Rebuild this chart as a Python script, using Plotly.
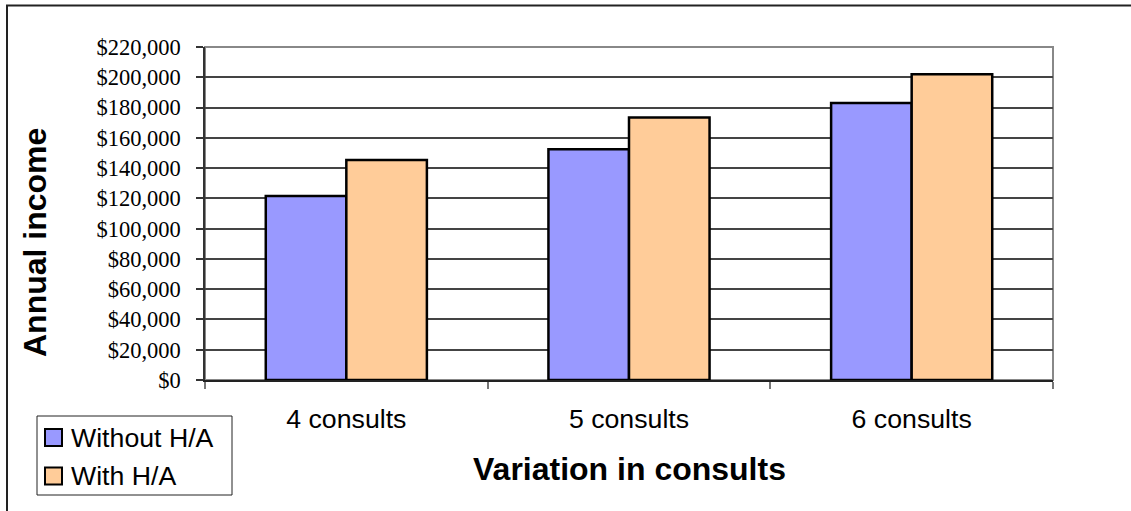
import plotly.graph_objects as go

categories = ["4 consults", "5 consults", "6 consults"]
without_ha = [121500, 152500, 183000]
with_ha = [145300, 173500, 202000]
series_names = ["Without H/A", "With H/A"]
series_colors = ["#9999FF", "#FFCC99"]
y_ticks = list(range(0, 220001, 20000))

W, H = 1131, 511
L, R, T, B = 205, 78, 47, 131
pw, ph = W - L - R, H - T - B

def px_x(p):
    return (p - L) / pw

def px_y(p):
    return (H - B - p) / ph

fig = go.Figure()
for name, vals, col in zip(series_names, [without_ha, with_ha], series_colors):
    fig.add_trace(go.Bar(
        x=categories, y=vals, name=name,
        marker=dict(color=col, line=dict(color="black", width=2.5)),
        showlegend=False,
    ))

shapes = [
    # chart border
    dict(type="rect", xref="paper", yref="paper",
         x0=px_x(7), x1=px_x(1145), y0=px_y(5.5), y1=px_y(530),
         line=dict(color="#222", width=2), layer="below"),
    # plot area border
    dict(type="rect", xref="paper", yref="paper",
         x0=0, x1=1, y0=0, y1=1,
         line=dict(color="#888", width=2), layer="below"),
    # legend box
    dict(type="rect", xref="paper", yref="paper",
         x0=px_x(37), x1=px_x(232), y0=px_y(416), y1=px_y(495),
         line=dict(color="#222", width=1), fillcolor="white"),
]
annotations = []
legend_rows = [437.5, 476]
for name, col, yc in zip(series_names, series_colors, legend_rows):
    shapes.append(dict(type="rect", xref="paper", yref="paper",
                       x0=px_x(45), x1=px_x(62), y0=px_y(yc - 8.5), y1=px_y(yc + 8.5),
                       line=dict(color="black", width=2), fillcolor=col))
    annotations.append(dict(text=name, xref="paper", yref="paper",
                            x=px_x(69), y=px_y(yc), xanchor="left", yanchor="middle",
                            showarrow=False,
                            font=dict(family="Liberation Sans, Arial", size=26.7, color="black")))

annotations.append(dict(text="<b>Variation in consults</b>", xref="paper", yref="paper",
                        x=px_x(629), y=px_y(469), xanchor="center", yanchor="middle",
                        showarrow=False,
                        font=dict(family="Liberation Sans, Arial", size=32, color="black")))
annotations.append(dict(text="<b>Annual income</b>", xref="paper", yref="paper",
                        x=px_x(35), y=px_y(243), xanchor="center", yanchor="middle",
                        textangle=-90, showarrow=False,
                        font=dict(family="Liberation Sans, Arial", size=32, color="black")))

fig.update_layout(
    width=W, height=H,
    margin=dict(l=L, r=R, t=T, b=B),
    paper_bgcolor="white", plot_bgcolor="white",
    barmode="group", bargap=0.43, bargroupgap=0,
    shapes=shapes, annotations=annotations,
    showlegend=False,
)
fig.update_xaxes(
    showline=True, linecolor="#222", linewidth=1.5,
    ticks="outside", tickson="boundaries", ticklen=7, tickcolor="#777", tickwidth=2,
    tickfont=dict(family="Liberation Sans, Arial", size=26.7, color="black"),
    ticklabelstandoff=14,
    showgrid=False,
)
fig.update_yaxes(
    range=[0, 220000], tickvals=y_ticks, tickformat="$,.0f",
    showline=True, linecolor="#333", linewidth=1.5,
    ticks="outside", ticklen=7, tickcolor="#333", tickwidth=1.5,
    showgrid=True, gridcolor="#444", gridwidth=1.5,
    tickfont=dict(family="Liberation Serif, Times New Roman", size=22.5, color="black"),
    ticklabelstandoff=11, zeroline=False,
)

fig.write_html("out.html",
               config={"displayModeBar": False},
               post_script="document.body.style.margin='0';document.body.style.overflow='hidden';")
